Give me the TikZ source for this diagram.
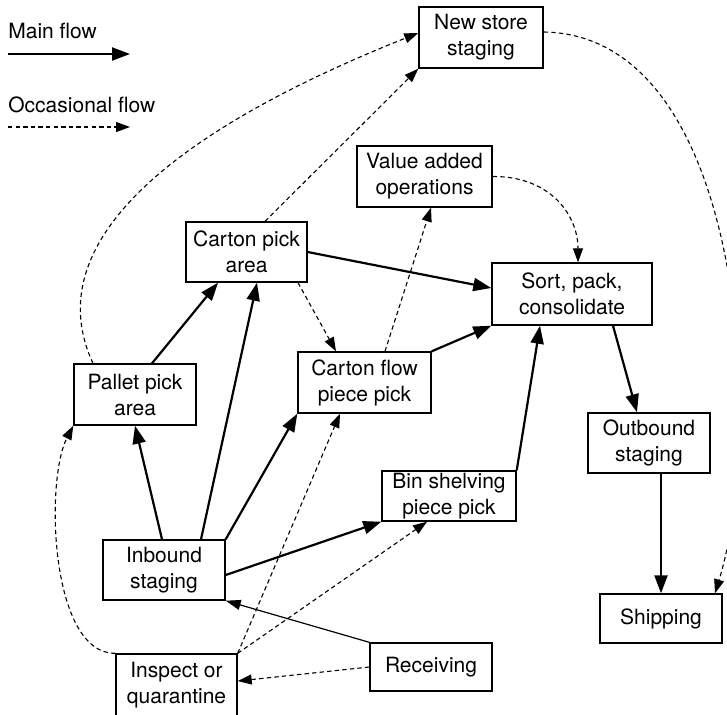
\documentclass[tikz,border=0pt]{standalone}
\usepackage{fontspec}
\setmainfont{TeX Gyre Heros}
\usetikzlibrary{arrows.meta}

\begin{document}
\begin{tikzpicture}[x=0.5pt, y=0.5pt, font=\fontsize{10.5pt}{13pt}\selectfont,
  box/.style={draw, line width=0.7pt, align=center, inner sep=0pt, minimum width=61pt, minimum height=30pt},
  main/.style={line width=1.1pt, -{Triangle[length=9pt, width=6.5pt]}},
  feed/.style={line width=0.6pt, -{Triangle[length=7.5pt, width=5pt]}},
  occ/.style={line width=0.55pt, dash pattern=on 2.2pt off 1.6pt, -{Triangle[length=7pt, width=5pt]}}]
  \useasboundingbox (0,0) rectangle (727,-714);
  % legend
  \node[anchor=base west, inner sep=0pt] (mainlbl) at (8,-38) {Main flow};
  \coordinate (mainA) at (8,-54);
  \coordinate (mainB) at (130,-54);
  \draw[main] (mainA) -- (mainB);
  \node[anchor=base west, inner sep=0pt] (occlbl) at (8,-112) {Occasional flow};
  \coordinate (occA) at (8,-127);
  \coordinate (occB) at (130,-127);
  \draw[occ] (occA) -- (occB);
  % areas of the building
  \node[box, minimum width=62pt, minimum height=30.5pt] (newstore) at (481,-37.5) {New store\\staging};
  \node[box, minimum width=67.5pt, minimum height=30.5pt] (valueadd) at (424.5,-176.5) {Value added\\operations};
  \node[box, minimum width=60.5pt] (cartonpick) at (246.5,-252) {Carton pick\\area};
  \node[box, minimum width=80pt, minimum height=31pt] (sortpack) at (572,-294) {Sort, pack,\\consolidate};
  \node[box, minimum height=30.5pt] (palletpick) at (135,-394.5) {Pallet pick\\area};
  \node[box, minimum width=66.5pt, minimum height=30.5pt] (cartonflow) at (364.5,-382.5) {Carton flow\\piece pick};
  \node[box] (outbound) at (649,-443) {Outbound\\staging};
  \node[box, minimum width=67pt, minimum height=25pt] (binshelf) at (449,-496) {Bin shelving\\piece pick};
  \node[box] (inbound) at (164,-570) {Inbound\\staging};
  \node[box, minimum height=24.5pt] (shipping) at (661,-618.5) {Shipping};
  \node[box, minimum height=24pt] (receiving) at (431,-667) {Receiving};
  \node[box, minimum width=60.5pt, minimum height=31pt] (inspect) at (176.5,-685) {Inspect or\\quarantine};
  % main flow
  \draw[main] ([xshift=8.5pt]palletpick.north) -- ([xshift=-14.25pt]cartonpick.south);
  \draw[main] ([xshift=-1pt]inbound.north) -- (palletpick.south);
  \draw[main] ([xshift=18.5pt]inbound.north) -- ([xshift=5.25pt]cartonpick.south);
  \draw[main] (inbound.north east) -- (cartonflow.south west);
  \draw[main] ([yshift=-2.5pt]inbound.east) -- (binshelf.south west);
  \draw[main] (cartonpick.east) -- ([yshift=3pt]sortpack.west);
  \draw[main] (cartonflow.north east) -- (sortpack.south west);
  \draw[main] (binshelf.north east) -- ([xshift=-16pt]sortpack.south);
  \draw[main] ([xshift=20.5pt]sortpack.south) -- ([xshift=-6pt]outbound.north);
  \draw[main] ([xshift=6pt]outbound.south) -- (shipping.north);
  \draw[feed] (receiving.north west) -- (inbound.south east);
  % occasional flow
  \draw[occ] ([xshift=-21pt]palletpick.north) .. controls (40,-250) and (155,-138) .. ([yshift=2.25pt]newstore.west);
  \draw[occ] ([xshift=9.25pt]cartonpick.north) -- (newstore.south west);
  \draw[occ] ([xshift=25.75pt]cartonpick.south) -- ([xshift=-14.25pt]cartonflow.north);
  \draw[occ] ([xshift=10.25pt]cartonflow.north) -- ([xshift=3.25pt]valueadd.south);
  \draw[occ] (valueadd.east) .. controls (550,-176) and (578,-215) .. ([xshift=3pt]sortpack.north);
  \draw[occ] ([yshift=2.75pt]newstore.east) .. controls (745,-35) and (765,-430) .. ([xshift=27pt]shipping.north);
  \draw[occ] (inspect.north west) .. controls (50,-654) and (45,-480) .. (palletpick.south west);
  \draw[occ] (inspect.north east) -- ([xshift=-12.25pt]cartonflow.south);
  \draw[occ] (inspect.north east) -- ([xshift=-11pt]binshelf.south);
  \draw[occ] (receiving.west) -- ([yshift=2pt]inspect.east);
\end{tikzpicture}
\end{document}
